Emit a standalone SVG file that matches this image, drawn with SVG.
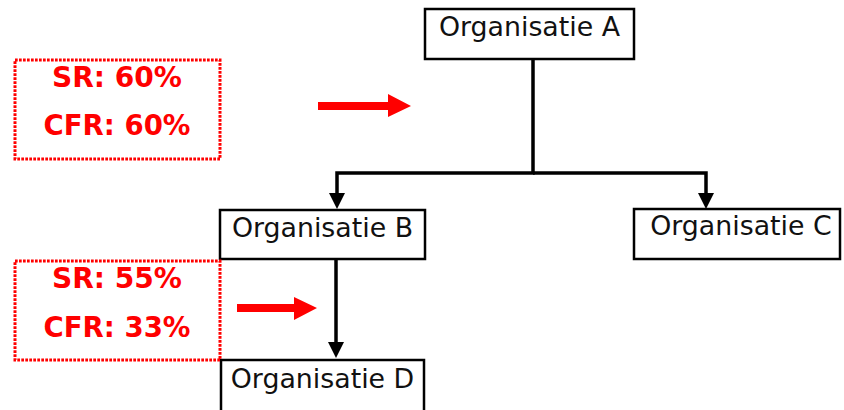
<svg xmlns="http://www.w3.org/2000/svg" width="844" height="410" viewBox="0 0 844 410">
  <defs>
    <style>
      .node rect { fill: #fff; stroke: #000; stroke-width: 2.5; }
      .node text { font-family: "DejaVu Sans", Verdana, sans-serif; font-size: 26.8px; fill: #111; text-anchor: middle; }
      .stat rect { fill: none; stroke: #f00; stroke-width: 3; stroke-dasharray: 2.7 1.3; }
      .stat text { font-family: "DejaVu Sans", Verdana, sans-serif; font-weight: bold; font-size: 27.5px; fill: #f00; text-anchor: middle; }
      .edge { fill: none; stroke: #000; stroke-width: 3.5; }
      .head { fill: #000; }
      .pointer { fill: #f00; }
    </style>
  </defs>

  <!-- connectors -->
  <g id="connectors">
    <polyline class="edge" points="533,59 533,173 337,173 337,193"/>
    <path class="head" d="M329,193 L345,193 L337,209 Z"/>
    <polyline class="edge" points="533,173 706,173 706,193"/>
    <path class="head" d="M698,193 L714,193 L706,209 Z"/>
    <line class="edge" x1="336" y1="259" x2="336" y2="342"/>
    <path class="head" d="M328,342 L344,342 L336,358 Z"/>
  </g>

  <!-- nodes -->
  <g id="org-a" class="node">
    <rect x="425" y="9" width="209" height="50"/>
    <text x="529.5" y="36">Organisatie A</text>
  </g>
  <g id="org-b" class="node">
    <rect x="220" y="210" width="205" height="49"/>
    <text x="322.5" y="237">Organisatie B</text>
  </g>
  <g id="org-c" class="node">
    <rect x="634" y="209" width="206" height="50"/>
    <text x="741" y="235">Organisatie C</text>
  </g>
  <g id="org-d" class="node">
    <rect x="221" y="360" width="203" height="60"/>
    <text x="322.5" y="388">Organisatie D</text>
  </g>

  <!-- ratio boxes -->
  <g id="stats-a" class="stat">
    <rect x="15" y="60" width="205" height="99"/>
    <text x="117" y="87" textLength="130" lengthAdjust="spacingAndGlyphs">SR: 60%</text>
    <text x="117" y="135" textLength="147" lengthAdjust="spacingAndGlyphs">CFR: 60%</text>
  </g>
  <g id="stats-b" class="stat">
    <rect x="15" y="261" width="205" height="99"/>
    <text x="117" y="288" textLength="130" lengthAdjust="spacingAndGlyphs">SR: 55%</text>
    <text x="117" y="337" textLength="147" lengthAdjust="spacingAndGlyphs">CFR: 33%</text>
  </g>

  <!-- red pointers -->
  <g id="pointer-a">
    <path class="pointer" d="M318,102 L388,102 L388,94 L411,106 L388,117 L388,110 L318,110 Z"/>
  </g>
  <g id="pointer-b">
    <path class="pointer" d="M237,304 L294,304 L294,297 L317,308 L294,320 L294,312 L237,312 Z"/>
  </g>
</svg>
